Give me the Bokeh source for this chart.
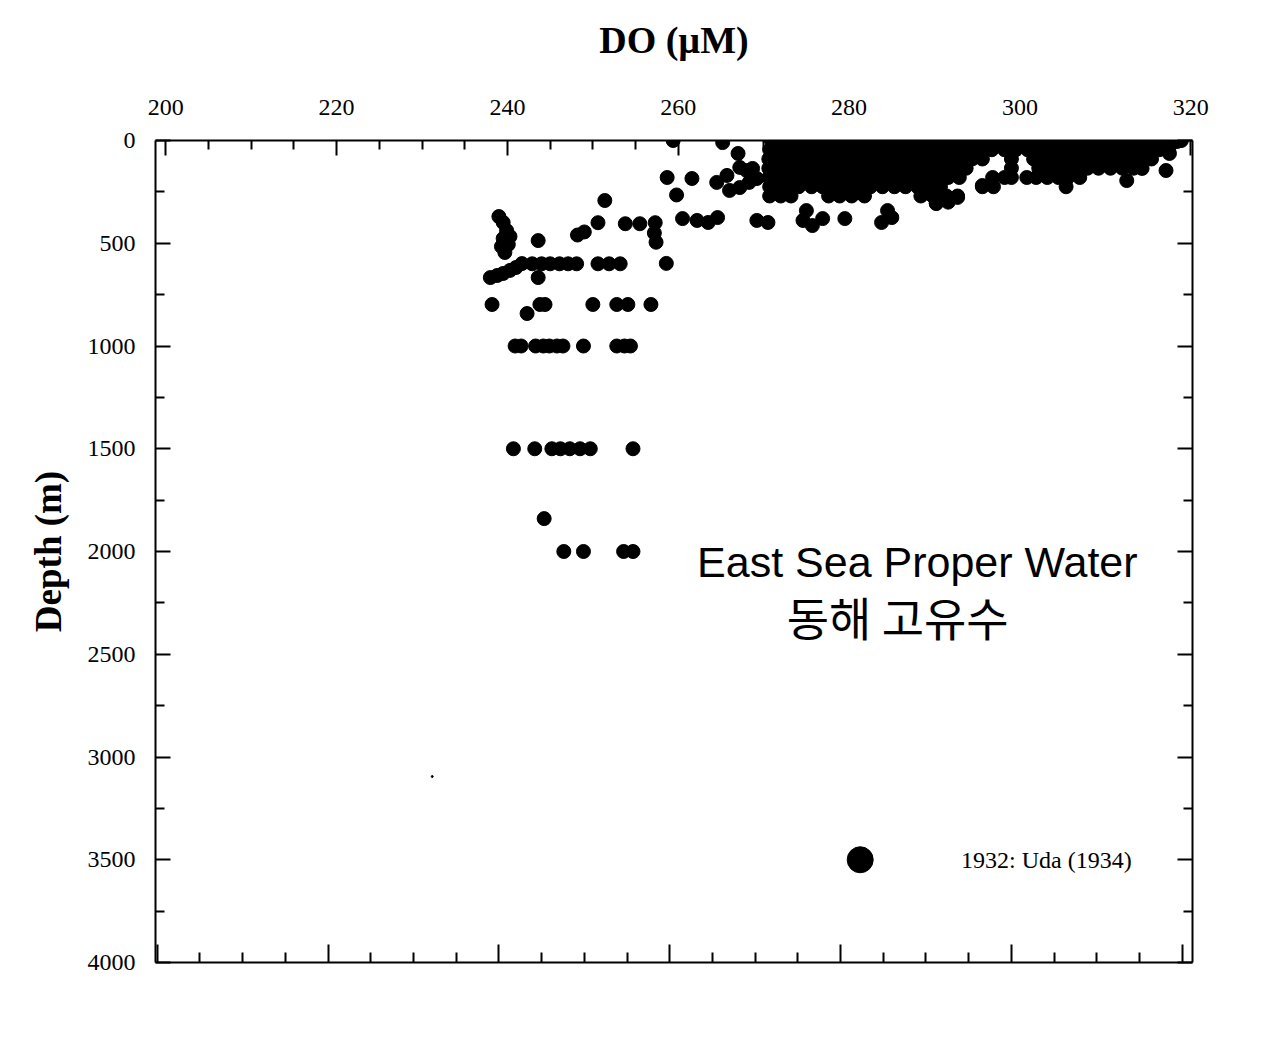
from bokeh.plotting import figure
from bokeh.models import (Range1d, LinearAxis, FixedTicker, Label, ColumnDataSource)
from bokeh.embed import file_html
from bokeh.resources import INLINE

# ---------------- data (DO in uM, depth in m) ----------------
x_ticks = [200, 220, 240, 260, 280, 300, 320]
x_minor = [205, 210, 215, 225, 230, 235, 245, 250, 255, 265, 270, 275, 285, 290, 295, 305, 310, 315]
y_ticks = [0, 500, 1000, 1500, 2000, 2500, 3000, 3500, 4000]
y_minor = [250, 750, 1250, 1750, 2250, 2750, 3250, 3750]

# dense near-surface cloud, one list of DO values per sampled depth
surf_depths = [0, 45, 90, 135, 180, 225, 270]
surf_0 = [270.9, 272.3, 273.6, 275.0, 276.5, 277.8, 279.2, 280.6, 282.0, 283.5, 284.8, 286.2, 287.7, 289.0,
          290.4, 291.9, 293.2, 294.6, 296.0, 297.5, 298.8, 300.2, 301.7, 303.0, 304.4, 305.9, 307.2, 308.6,
          310.1, 311.4, 312.8, 314.3, 315.6, 316.8, 318.9]
surf_45 = [270.7, 271.6, 273.0, 274.3, 275.7, 277.2, 278.5, 279.9, 281.3, 282.7, 284.2, 285.5, 286.9, 288.4,
           289.7, 291.1, 292.6, 293.9, 295.3, 296.7, 298.2, 299.5, 300.9, 302.4, 303.7, 305.1, 306.6, 307.9,
           309.3, 310.8, 312.1, 313.5, 315.0, 316.3, 317.4]
surf_90 = [270.6, 272.1, 273.4, 274.8, 276.3, 277.6, 279.1, 280.4, 281.8, 283.2, 284.7, 286.0, 287.4, 288.9,
           290.2, 291.6, 293.1, 294.4, 295.6, 299.0, 301.6, 302.8, 304.2, 305.7, 307.0, 308.4, 309.9, 311.2,
           312.6, 314.1, 315.4]
surf_135 = [270.6, 271.3, 272.7, 274.2, 275.5, 276.9, 278.4, 279.7, 281.1, 282.6, 283.9, 285.3, 286.8, 288.1,
            289.5, 291.0, 292.3, 293.7, 299.0, 302.2, 303.6, 305.0, 306.4, 307.9, 309.2, 310.6, 312.0, 313.3]
surf_180 = [270.6, 272.0, 273.4, 274.8, 276.3, 277.6, 279.0, 280.5, 281.8, 283.2, 284.7, 286.0, 287.4, 288.9,
            290.2, 291.6, 292.9, 296.8, 298.2, 299.0, 300.8, 301.9, 303.2, 304.5, 305.6, 307.0]
surf_225 = [270.7, 271.4, 272.8, 274.1, 275.6, 276.9, 278.3, 279.7, 281.1, 282.5, 283.9, 285.3, 286.6, 288.0,
            289.4, 290.7, 295.6, 296.9, 305.4]
surf_270 = [270.7, 272.0, 273.2, 277.6, 278.9, 280.3, 281.8, 288.4, 289.8, 291.4, 292.7]

# scattered upper-layer samples
upper_do = [259.4, 265.2, 258.7, 261.6, 259.8, 251.4, 264.5, 265.7, 267.0, 267.2, 268.0, 268.7, 266.0, 267.2,
            268.3, 269.2, 257.3, 257.2, 257.4, 260.5, 262.2, 263.5, 264.6, 269.2, 270.5, 275.0, 274.6, 275.7,
            276.9, 279.5, 284.5, 283.8, 285.0, 290.2, 291.4, 292.7, 295.6, 312.5, 314.3, 317.1, 318.4, 317.5,
            250.6, 253.8, 255.5, 248.2, 249.0, 243.6, 258.6, 290.2, 291.6]
upper_depth = [0, 10, 180, 185, 265, 292, 204, 170, 63, 131, 146, 136, 243, 229,
               204, 185, 400, 450, 495, 380, 389, 399, 375, 389, 399, 341, 389, 414,
               380, 380, 341, 399, 375, 307, 282, 277, 219, 195, 136, 146, 5, 63,
               400, 405, 405, 460, 445, 487, 598, 305, 300]

# intermediate and deep samples
deep_do = [238.0, 238.8, 239.5, 240.3, 241.0, 241.7, 242.9, 244.0, 245.0, 246.1, 247.1, 248.1, 250.6, 251.9,
           253.2, 243.6,
           239.0, 239.5, 239.9, 240.3, 239.5, 240.1, 239.3, 239.7,
           238.2, 242.3, 243.8, 244.4, 250.0, 252.8, 254.1, 256.8,
           240.9, 241.6, 243.3, 244.2, 244.9, 245.8, 246.5, 248.9, 252.8, 253.7, 254.4,
           240.7, 243.2, 245.2, 246.2, 247.3, 248.5, 249.7, 254.7,
           244.3,
           246.6, 248.9, 253.6, 254.7]
deep_depth = [667, 657, 647, 632, 618, 599, 600, 600, 600, 600, 600, 600, 600, 600,
              600, 667,
              370, 399, 438, 467, 477, 506, 516, 545,
              798, 842, 798, 798, 798, 798, 798, 798,
              1000, 1000, 1000, 1000, 1000, 1000, 1000, 1000, 1000, 1000, 1000,
              1500, 1500, 1500, 1500, 1500, 1500, 1500, 1500,
              1840,
              2000, 2000, 2000, 2000]

speck_do = [231.2]
speck_depth = [3095]

uda_do = [281.3]
uda_depth = [3500]

# ---------------- build table ----------------
surf_rows = [surf_0, surf_45, surf_90, surf_135, surf_180, surf_225, surf_270]
all_do, all_depth = [], []
for d, row in zip(surf_depths, surf_rows):
    all_do += row
    all_depth += [d] * len(row)
all_do += upper_do + deep_do
all_depth += upper_depth + deep_depth
src = ColumnDataSource(dict(x=all_do, y=all_depth))

SERIF = "Liberation Serif"

p = figure(width=1253, height=1043, output_backend="svg", toolbar_location=None,
           x_range=Range1d(198.8, 320.2), y_range=Range1d(4000, 0),
           x_axis_location="above", min_border_left=155, min_border_right=61,
           min_border_top=140, min_border_bottom=81)
p.background_fill_color = "white"
p.border_fill_color = "white"
p.outline_line_color = None
p.xgrid.visible = False
p.ygrid.visible = False

def style_axis(ax, labels=True):
    ax.axis_line_color = "black"
    ax.axis_line_width = 2
    ax.major_tick_line_color = "black"
    ax.minor_tick_line_color = "black"
    ax.major_tick_line_width = 2
    ax.minor_tick_line_width = 2
    ax.major_tick_in = 15
    ax.major_tick_out = 0
    ax.minor_tick_in = 9
    ax.minor_tick_out = 0
    ax.major_label_text_font = SERIF
    ax.major_label_text_font_size = "24px"
    ax.major_label_text_color = "black"
    if not labels:
        ax.major_label_text_font_size = "0px"
        ax.major_label_text_color = None

xa = p.xaxis[0]
xa.ticker = FixedTicker(ticks=x_ticks, minor_ticks=x_minor)
style_axis(xa)
xa.major_label_standoff = 26
xa.axis_label = "DO (\u00b5M)"
xa.axis_label_text_font = SERIF
xa.axis_label_text_font_style = "bold"
xa.axis_label_text_font_size = "38px"
xa.axis_label_text_color = "black"
xa.axis_label_standoff = 36

ya = p.yaxis[0]
ya.ticker = FixedTicker(ticks=y_ticks, minor_ticks=y_minor)
style_axis(ya)
ya.major_label_standoff = 20
ya.axis_label = "Depth (m)"
ya.axis_label_text_font = SERIF
ya.axis_label_text_font_style = "bold"
ya.axis_label_text_font_size = "37px"
ya.axis_label_text_color = "black"
ya.axis_label_standoff = 16

# bottom axis (ticks only, slightly offset as in the original)
p.extra_x_ranges = {"bottom": Range1d(199.8, 321.2)}
bx = LinearAxis(x_range_name="bottom", ticker=FixedTicker(ticks=x_ticks, minor_ticks=x_minor))
style_axis(bx, labels=False)
bx.major_tick_in = 18
bx.minor_tick_in = 10
p.add_layout(bx, "below")

ry = LinearAxis(ticker=FixedTicker(ticks=y_ticks, minor_ticks=y_minor))
style_axis(ry, labels=False)
p.add_layout(ry, "right")

p.scatter("x", "y", source=src, marker="circle", size=14, color="black")
p.scatter(speck_do, speck_depth, marker="circle", size=2, color="black")
p.scatter(uda_do, uda_depth, marker="circle", size=26, color="black")

p.add_layout(Label(x=262.2, y=2052, text="East Sea Proper Water", text_font="Liberation Sans",
                   text_font_size="43px", text_baseline="middle", text_align="left", text_color="black"))
p.add_layout(Label(x=272.7, y=2316, text="동해 고유수", text_font="Noto Sans CJK KR",
                   text_font_size="46px", text_baseline="middle", text_align="left", text_color="black"))
p.add_layout(Label(x=293.1, y=3500, text="1932: Uda (1934)", text_font=SERIF,
                   text_font_size="24px", text_baseline="middle", text_align="left", text_color="black"))

open("out.html", "w").write(file_html(p, INLINE))
